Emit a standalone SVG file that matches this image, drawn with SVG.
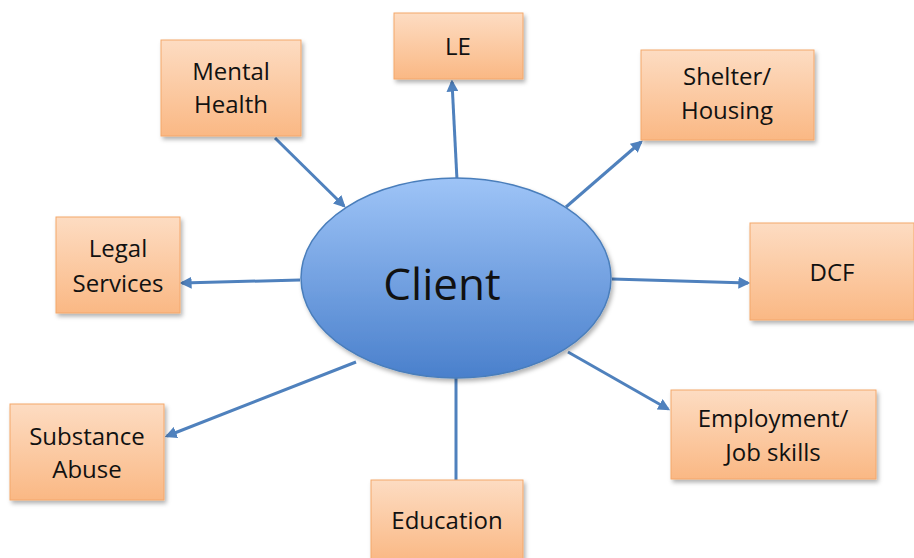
<svg xmlns="http://www.w3.org/2000/svg" width="914" height="558" viewBox="0 0 914 558">
<defs>
<linearGradient id="boxg" x1="0" y1="0" x2="0" y2="1">
<stop offset="0" stop-color="#fddcc2"/>
<stop offset="1" stop-color="#fab884"/>
</linearGradient>
<linearGradient id="ellg" x1="0" y1="0" x2="0" y2="1">
<stop offset="0" stop-color="#9ec4f7"/>
<stop offset="1" stop-color="#4a80cc"/>
</linearGradient>
<filter id="sh" x="-10%" y="-10%" width="130%" height="130%">
<feDropShadow dx="2" dy="3" stdDeviation="2" flood-color="#000" flood-opacity="0.3"/>
</filter>
<marker id="arr" viewBox="0 0 10 10" refX="8" refY="5" markerWidth="4" markerHeight="4" orient="auto" markerUnits="strokeWidth">
<path d="M0,0 L10,5 L0,10 z" fill="#4f81bd"/>
</marker>
</defs>
<style>
.box{fill:url(#boxg);stroke:#f4a76b;stroke-width:1;filter:url(#sh)}
.t{font-family:"Open Sans","Liberation Sans",sans-serif;font-size:24px;fill:#111;text-anchor:middle}
.c{stroke:#4f81bd;stroke-width:3;fill:none}
.a{marker-end:url(#arr)}
</style>
<g id="connectors">
<line class="c a" x1="275" y1="138" x2="344" y2="206"/>
<line class="c a" x1="457" y1="180" x2="452" y2="82"/>
<line class="c a" x1="566" y1="207" x2="641" y2="142"/>
<line class="c a" x1="300" y1="280" x2="182" y2="283"/>
<line class="c a" x1="612" y1="279" x2="748" y2="283"/>
<line class="c a" x1="356" y1="362" x2="167" y2="436"/>
<line class="c a" x1="568" y1="352" x2="668" y2="409"/>
<line class="c" x1="456" y1="378" x2="456" y2="480"/>
</g>
<g id="client">
<ellipse cx="456" cy="278" rx="155" ry="100" fill="url(#ellg)" stroke="#4a7ebb" stroke-width="1.5" filter="url(#sh)"/>
<text x="442" y="300" style="font-family:'Open Sans','Liberation Sans',sans-serif;font-size:44px;fill:#111;text-anchor:middle">Client</text>
</g>
<g id="mental-health">
<rect class="box" x="161" y="40" width="140" height="96"/>
<text class="t" x="231" y="80">Mental</text>
<text class="t" x="231" y="113">Health</text>
</g>
<g id="le">
<rect class="box" x="394" y="13" width="129" height="66"/>
<text class="t" x="458" y="55">LE</text>
</g>
<g id="shelter">
<rect class="box" x="641" y="50" width="173" height="90"/>
<text class="t" x="727" y="85">Shelter/</text>
<text class="t" x="727" y="119">Housing</text>
</g>
<g id="legal">
<rect class="box" x="56" y="217" width="124" height="96"/>
<text class="t" x="118" y="257">Legal</text>
<text class="t" x="118" y="292">Services</text>
</g>
<g id="dcf">
<rect class="box" x="750" y="223" width="164" height="97"/>
<text class="t" x="832" y="281">DCF</text>
</g>
<g id="substance">
<rect class="box" x="10" y="404" width="154" height="96"/>
<text class="t" x="87" y="445">Substance</text>
<text class="t" x="87" y="478">Abuse</text>
</g>
<g id="employment">
<rect class="box" x="671" y="390" width="205" height="89"/>
<text class="t" x="773" y="427">Employment/</text>
<text class="t" x="773" y="461">Job skills</text>
</g>
<g id="education">
<rect class="box" x="371" y="480" width="152" height="82"/>
<text class="t" x="447" y="529">Education</text>
</g>
</svg>
